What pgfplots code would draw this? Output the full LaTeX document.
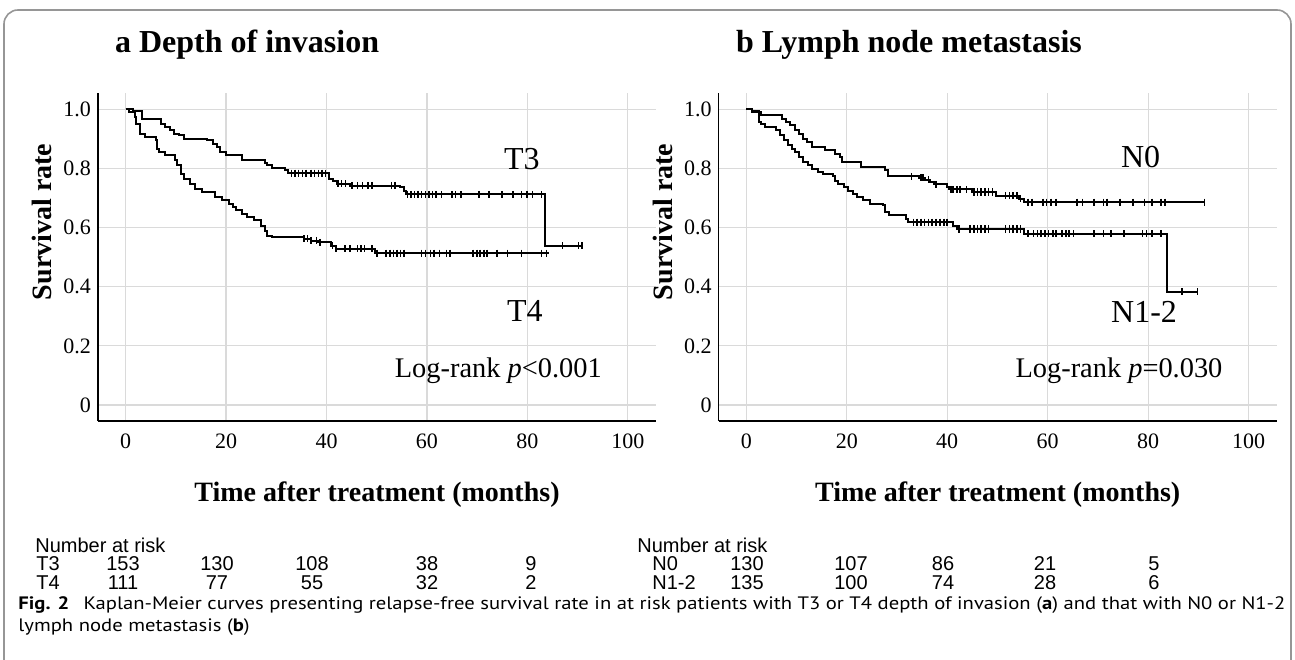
\documentclass[border=0pt]{standalone}
\usepackage{fontspec}
\setmainfont{Liberation Serif}
\newfontfamily\arialf{Liberation Sans}
\newfontfamily\capf{PT Sans}
\usepackage{pgfplots}
\pgfplotsset{compat=1.18}

\definecolor{gridc}{RGB}{218,218,218}
\definecolor{framec}{RGB}{150,150,150}

\pgfplotsset{
  km/.style={
    scale only axis, width=279pt, height=164pt, anchor=south west,
    xmin=-5.5, xmax=105.6, ymin=-0.054, ymax=1.055,
    axis x line*=bottom, axis y line*=left,
    axis line style={line width=0.7pt},
    xtick={0,20,...,100},
    ytick={0,0.2,0.4,0.6,0.8,1.0},
    yticklabels={0,0.2,0.4,0.6,0.8,1.0},
    major tick length=0pt,
    grid=major, grid style={gridc, line width=0.6pt},
    /pgf/number format/assume math mode=true,
    tick label style={font=\fontsize{11}{13}\selectfont},
    xticklabel style={yshift=-3pt},
    xlabel={Time after treatment (months)},
    ylabel={Survival rate},
    label style={font=\fontsize{14}{16}\selectfont\bfseries},
    xlabel style={at={(axis description cs:0.5,-0.223)}, anchor=center},
    ylabel style={at={(axis description cs:-0.1,0.607)}, anchor=center},
    clip=false
  },
  km line/.style={const plot, black, line width=1pt},
  km cens/.style={only marks, mark=|, mark size=1.8pt, black, mark options={line width=0.8pt}}
}

\begin{document}
\begin{tikzpicture}
\useasboundingbox (0,0) rectangle (647.5pt,329.5pt);
\draw[framec, line width=0.8pt, rounded corners=7pt] (2pt,-20pt) rectangle (645.5pt,324.5pt);

% titles
\node[anchor=west, font=\fontsize{16}{18}\selectfont\bfseries] at (54pt,307pt) {a Depth of invasion};
\node[anchor=west, font=\fontsize{16}{18}\selectfont\bfseries] at (364.5pt,307pt) {b Lymph node metastasis};

% panel a
\begin{axis}[km, at={(49pt,119pt)}]
\addplot[km line] coordinates {
(0,1.0)(1.4,0.993)(3.2,0.968)(7.1,0.951)(7.8,0.94)(8.9,0.929)(9.6,0.918)(10.6,0.912)
(11.7,0.901)(16.3,0.895)(17.4,0.884)(18.1,0.872)(18.8,0.855)(19.9,0.844)(23.1,0.827)
(27.7,0.818)(28.1,0.81)(29.1,0.802)(31.8,0.793)(32.3,0.784)(40.5,0.765)(41.2,0.757)
(42.0,0.748)(44.7,0.742)(54.7,0.737)(55.4,0.725)(55.8,0.712)(83.5,0.539)(90.9,0.539)
};
\addplot[km line] coordinates {
(0,1.0)(0.7,0.991)(1.8,0.974)(2.1,0.951)(2.8,0.918)(3.9,0.906)(6.0,0.895)(6.3,0.867)
(6.7,0.855)(7.8,0.844)(9.9,0.827)(10.3,0.81)(11.0,0.782)(11.7,0.765)(12.8,0.748)
(13.8,0.731)(15.3,0.72)(17.8,0.703)(19.2,0.692)(20.6,0.68)(21.3,0.669)(22.0,0.658)
(23.1,0.646)(24.1,0.635)(25.6,0.624)(27.0,0.607)(27.7,0.59)(28.1,0.573)(29.1,0.567)
(35.5,0.562)(36.9,0.556)(38.4,0.55)(40.8,0.539)(41.9,0.528)(49.7,0.513)(84.2,0.513)
};
% censored (T3)
\addplot[km cens] coordinates {
(33.0,0.784)(33.7,0.784)(34.4,0.784)(35.2,0.784)(35.9,0.784)(36.9,0.784)(37.6,0.784)
(38.4,0.784)(39.1,0.784)(39.8,0.784)
(42.3,0.748)(43.0,0.748)(43.8,0.748)
(45.1,0.742)(46.2,0.742)(47.2,0.742)(48.3,0.742)(49.0,0.742)(52.9,0.742)(53.6,0.742)
(56.1,0.712)(56.8,0.712)(57.5,0.712)(58.2,0.712)(58.9,0.712)(59.7,0.712)(60.4,0.712)
(61.1,0.712)(61.8,0.712)(62.9,0.712)(65.0,0.712)(65.7,0.712)(66.8,0.712)(70.3,0.712)
(72.4,0.712)(74.9,0.712)(77.1,0.712)(78.8,0.712)(79.9,0.712)(81.0,0.712)(82.8,0.712)
(87.0,0.539)(90.2,0.539)(90.9,0.539)
};
% censored (T4)
\addplot[km cens] coordinates {
(35.5,0.562)(36.2,0.562)(36.9,0.556)(38.0,0.556)(38.7,0.55)(41.2,0.539)
(41.9,0.528)(43.7,0.528)(44.7,0.528)(46.2,0.528)(46.9,0.528)(47.6,0.528)(49.0,0.528)
(50.1,0.513)(51.9,0.513)(52.6,0.513)(53.3,0.513)(54.0,0.513)(54.7,0.513)(55.4,0.513)
(58.9,0.513)(59.7,0.513)(60.7,0.513)(61.4,0.513)(62.5,0.513)(63.9,0.513)(64.6,0.513)
(69.2,0.513)(69.9,0.513)(70.6,0.513)(71.3,0.513)(72.0,0.513)(73.9,0.513)(76.0,0.513)
(78.8,0.513)(82.8,0.513)(83.8,0.513)
};
\node[font=\fontsize{16}{18}\selectfont] at (axis cs:78.9,0.83) {T3};
\node[font=\fontsize{16}{18}\selectfont] at (axis cs:79.5,0.318) {T4};
\node[anchor=east, font=\fontsize{14.2}{16}\selectfont] at (axis cs:96.2,0.115) {Log-rank \textit{p}<0.001};
\end{axis}

% panel b
\begin{axis}[km, at={(359.35pt,119pt)}]
\addplot[km line] coordinates {
(0,1.0)(1.2,0.992)(3.0,0.98)(7.1,0.968)(7.9,0.957)(8.6,0.946)(9.7,0.929)(10.5,0.918)
(11.2,0.901)(12.0,0.889)(13.0,0.872)(15.7,0.861)(17.6,0.85)(18.7,0.838)(19.1,0.822)
(22.8,0.805)(27.7,0.793)(28.2,0.773)(34.4,0.768)(35.5,0.762)(36.6,0.754)(37.4,0.746)
(40.0,0.737)(40.4,0.729)(44.9,0.72)(49.7,0.708)(54.2,0.697)(55.3,0.686)(91.2,0.686)
};
\addplot[km line] coordinates {
(0,1.0)(1.1,0.994)(2.6,0.957)(3.0,0.951)(3.7,0.94)(6.0,0.929)(6.7,0.912)(7.5,0.895)
(8.2,0.878)(9.0,0.867)(9.7,0.855)(10.5,0.838)(11.2,0.821)(12.3,0.81)(13.1,0.799)
(14.2,0.788)(15.3,0.78)(17.2,0.773)(17.6,0.759)(18.3,0.746)(19.4,0.737)(20.2,0.725)
(21.3,0.714)(22.1,0.703)(23.2,0.692)(24.7,0.68)(27.3,0.675)(27.7,0.652)(28.4,0.641)
(31.8,0.629)(32.2,0.618)(41.1,0.607)(41.9,0.595)(55.3,0.579)(83.8,0.383)(89.8,0.383)
};
% censored (N0)
\addplot[km cens] coordinates {
(32.9,0.773)(34.8,0.768)(35.2,0.768)(36.3,0.762)(37.8,0.746)
(40.8,0.729)(41.1,0.729)(41.9,0.729)(42.6,0.729)(43.8,0.729)
(45.3,0.72)(46.0,0.72)(46.7,0.72)(47.5,0.72)(48.2,0.72)(49.0,0.72)
(51.6,0.708)(52.4,0.708)(53.1,0.708)(53.9,0.708)(54.6,0.697)
(56.1,0.686)(56.9,0.686)(59.1,0.686)(59.8,0.686)(60.6,0.686)(61.7,0.686)(65.8,0.686)
(66.9,0.686)(69.2,0.686)(71.1,0.686)(71.8,0.686)(74.4,0.686)(77.0,0.686)(79.3,0.686)
(80.8,0.686)(82.6,0.686)(83.4,0.686)(91.2,0.686)
};
% censored (N1-2)
\addplot[km cens] coordinates {
(33.3,0.618)(34.0,0.618)(34.8,0.618)(35.5,0.618)(36.3,0.618)(37.0,0.618)(37.8,0.618)
(38.5,0.618)(39.3,0.618)(40.0,0.618)
(42.3,0.595)(44.5,0.595)(45.3,0.595)(46.0,0.595)(46.7,0.595)(47.5,0.595)(48.2,0.595)
(51.6,0.595)(52.4,0.595)(53.1,0.595)(53.9,0.595)(54.6,0.595)
(56.1,0.579)(57.2,0.579)(58.0,0.579)(58.7,0.579)(59.5,0.579)(60.2,0.579)(61.0,0.579)
(61.7,0.579)(62.8,0.579)(63.6,0.579)(64.3,0.579)(65.1,0.579)(69.2,0.579)(71.1,0.579)
(72.6,0.579)(75.2,0.579)(78.9,0.579)(79.7,0.579)(80.8,0.579)(82.6,0.579)
(86.8,0.383)(89.8,0.383)
};
\node[font=\fontsize{16}{18}\selectfont] at (axis cs:78.5,0.839) {N0};
\node[font=\fontsize{16}{18}\selectfont] at (axis cs:79.2,0.315) {N1-2};
\node[anchor=east, font=\fontsize{14.2}{16}\selectfont] at (axis cs:96.2,0.115) {Log-rank \textit{p}=0.030};
\end{axis}

% number at risk
\begin{scope}[every node/.style={font=\arialf\fontsize{10}{12}\selectfont, inner sep=0pt}]
\node[anchor=west] at (17.5pt,57pt) {Number at risk};
\node[anchor=west] at (18pt,47.5pt) {T3};
\node[anchor=west] at (18pt,38pt) {T4};
\foreach \x/\v in {61.5/153,108.5/130,156/108,213.5/38,265.5/9} \node at (\x pt,47.5pt) {\v};
\foreach \x/\v in {61.5/111,108.5/77,156/55,213.5/32,265.5/2} \node at (\x pt,38pt) {\v};
\node[anchor=west] at (318.5pt,57pt) {Number at risk};
\node[anchor=west] at (326pt,47.5pt) {N0};
\node[anchor=west] at (326pt,38pt) {N1-2};
\foreach \x/\v in {373.5/130,425.5/107,471.5/86,522.5/21,577/5} \node at (\x pt,47.5pt) {\v};
\foreach \x/\v in {373.5/135,425.5/100,471.5/74,522.5/28,577/6} \node at (\x pt,38pt) {\v};
\end{scope}

% caption
\begin{scope}[every node/.style={font=\capf\fontsize{9}{11}\selectfont, inner sep=0pt, anchor=west}]
\node at (9pt,27pt) {\scalebox{1.147}[1]{\textbf{Fig. 2}\hspace{0.7em}Kaplan-Meier curves presenting relapse-free survival rate in at risk patients with T3 or T4 depth of invasion (\textbf{a}) and that with N0 or N1-2}};
\node at (9pt,16pt) {\scalebox{1.147}[1]{lymph node metastasis (\textbf{b})}};
\end{scope}
\end{tikzpicture}
\end{document}
